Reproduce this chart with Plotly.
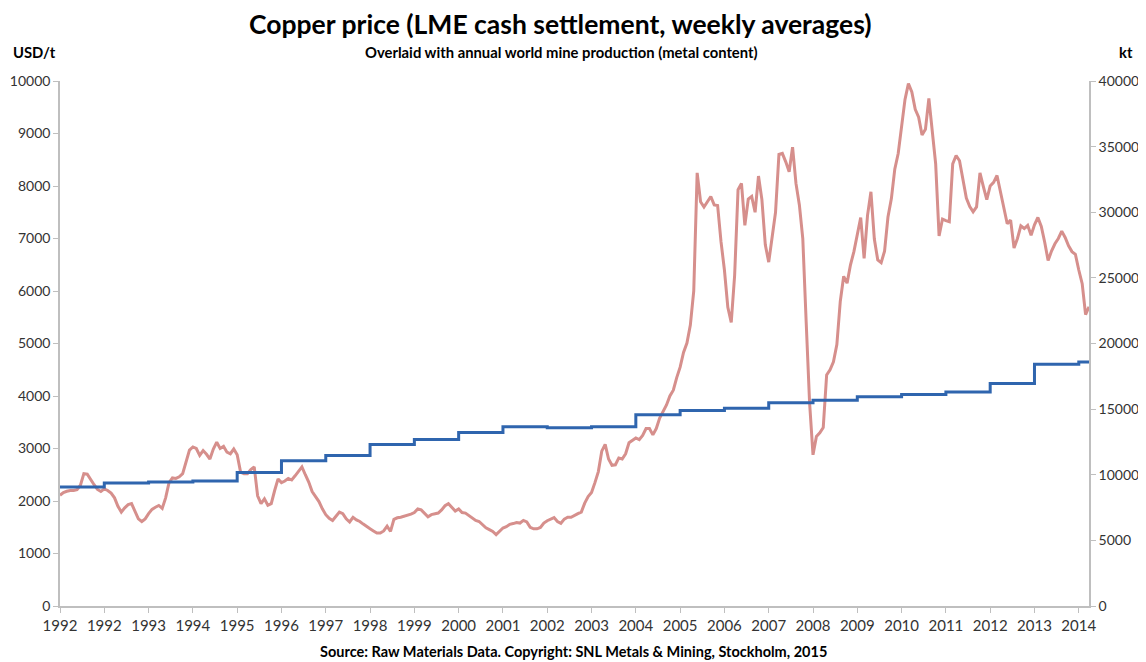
import pandas as pd
import plotly.graph_objects as go

# ---------------- data ----------------
start_date = "1992-01-02"

# LME copper cash price, USD/t, sampled every 4 weeks from start_date
price_usd_t = [
    2110, 2160, 2185, 2200, 2200, 2215, 2300, 2520, 2510, 2400,
    2310, 2220, 2180, 2230, 2200, 2150, 2060, 1900, 1790, 1870,
    1930, 1950, 1800, 1660, 1610, 1660, 1760, 1840, 1880, 1915,
    1860, 2060, 2350, 2440, 2430, 2460, 2520, 2740, 2970, 3030,
    3000, 2870, 2960, 2890, 2800, 2990, 3120, 3000, 3040, 2930,
    2900, 2990, 2880, 2550, 2520, 2520, 2600, 2650, 2100, 1950,
    2040, 1920, 1950, 2200, 2420, 2350, 2380, 2430, 2400, 2480,
    2570, 2650, 2500, 2360, 2180, 2080, 1990, 1850, 1740, 1670,
    1630, 1710, 1790, 1760, 1660, 1600, 1690, 1640, 1610, 1560,
    1510, 1470, 1430, 1390, 1390, 1430, 1520, 1420, 1650, 1680,
    1690, 1710, 1720, 1750, 1780, 1850, 1830, 1760, 1700, 1740,
    1750, 1770, 1830, 1910, 1950, 1880, 1810, 1850, 1780, 1770,
    1720, 1680, 1630, 1610, 1540, 1490, 1455, 1420, 1360, 1420,
    1485, 1510, 1555, 1570, 1590, 1580, 1630, 1600, 1500, 1470,
    1470, 1495, 1580, 1625, 1655, 1685, 1610, 1575, 1655, 1690,
    1690, 1730, 1760, 1790, 1960, 2085, 2160, 2350, 2560, 2950,
    3080, 2800, 2680, 2690, 2820, 2800, 2900, 3110, 3150, 3200,
    3170, 3250, 3380, 3380, 3260, 3380, 3580, 3700, 3830, 4000,
    4110, 4350, 4550, 4830, 5010, 5350, 6000, 8250, 7700, 7600,
    7700, 7800, 7640, 7630, 6940, 6400, 5690, 5400, 6300, 7930,
    8050, 7250, 7750, 7800, 7500, 8190, 7740, 6880, 6550, 7080,
    7500, 8600, 8620, 8460, 8270, 8740, 8050, 7640, 7000, 5400,
    3870, 2880, 3230, 3300, 3400, 4400, 4500, 4650, 4980, 5800,
    6280, 6150, 6500, 6750, 7090, 7400, 6620, 7440, 7890, 6990,
    6590, 6540, 6760, 7410, 7760, 8320, 8620, 9130, 9650, 9950,
    9790, 9460, 9310, 8970, 9080, 9670, 9020, 8420, 7050, 7370,
    7340, 7320, 8420, 8580, 8480, 8140, 7770, 7610, 7510, 7600,
    8250, 7990, 7740, 8000, 8070, 8200, 7900, 7600, 7280, 7350,
    6820, 7000, 7240, 7190, 7250, 7060, 7260, 7400, 7230, 6930,
    6580, 6760, 6900, 7000, 7140, 7020, 6860, 6750, 6700, 6400,
    6140, 5550, 5700,
]

# x-axis category labels (one every 52 weeks, as in the original)
tick_labels = ["1992", "1992", "1993", "1994", "1995", "1996", "1997", "1998",
               "1999", "2000", "2001", "2002", "2003", "2004", "2005", "2006",
               "2007", "2008", "2009", "2010", "2011", "2012", "2013", "2014"]

# annual world mine production, kt (one value per labelled interval)
production_kt = [9070, 9380, 9450, 9530, 10170, 11060, 11470, 12300, 12690,
                 13220, 13660, 13580, 13660, 14570, 14900, 15060, 15480,
                 15680, 15940, 16120, 16310, 16960, 18410, 18600]

# ---------------- build figure ----------------
price_dates = pd.date_range(start_date, periods=len(price_usd_t), freq="28D")
tick_dates = pd.date_range(start_date, periods=len(tick_labels), freq="364D")
prod_dates = list(tick_dates) + [price_dates[-1]]
prod_vals = production_kt + [production_kt[-1]]

FONT = "Lato"
AXIS_COL = "#BFBFBF"
TXT_COL = "#333333"

fig = go.Figure()
fig.add_trace(go.Scatter(
    x=price_dates, y=price_usd_t, mode="lines",
    line=dict(color="#D68F8C", width=3), yaxis="y", showlegend=False,
))
fig.add_trace(go.Scatter(
    x=prod_dates, y=prod_vals, mode="lines", line_shape="hv",
    line=dict(color="#2F65AE", width=3), yaxis="y2", showlegend=False,
))

axis_common = dict(
    showgrid=False, zeroline=False, automargin=False,
    showline=True, linecolor=AXIS_COL, linewidth=1.5,
    ticks="outside", tickcolor=AXIS_COL, ticklen=5,
)

# the page body adds an 8 px margin, so the figure is sized/margined to compensate
fig.update_layout(
    width=1138, height=654,
    margin=dict(l=52, r=57, t=73, b=56),
    paper_bgcolor="white", plot_bgcolor="white",
    font=dict(family=FONT, size=15, color=TXT_COL),
    xaxis=dict(
        type="date", range=[price_dates[0], price_dates[-1]],
        tickmode="array", tickvals=tick_dates, ticktext=tick_labels,
        tickfont=dict(family=FONT, size=15, color=TXT_COL),
        **axis_common,
    ),
    yaxis=dict(range=[0, 10000], dtick=1000, tickformat="d",
               tickfont=dict(family=FONT, size=14, color=TXT_COL),
               **axis_common),
    yaxis2=dict(overlaying="y", side="right", range=[0, 40000], dtick=5000,
                tickformat="d",
                tickfont=dict(family=FONT, size=14, color=TXT_COL),
                **axis_common),
)

annots = [
    dict(text="<b>Copper price (LME cash settlement, weekly averages)</b>",
         x=0.486, y=1.108, size=26.5),
    dict(text="<b>Overlaid with annual world mine production (metal content)</b>",
         x=0.487, y=1.055, size=14.8),
    dict(text="<b>USD/t</b>", x=-0.025, y=1.055, size=14.8),
    dict(text="<b>kt</b>", x=1.036, y=1.055, size=14.8),
    dict(text="<b>Source: Raw Materials Data. Copyright: SNL Metals &amp; Mining, Stockholm, 2015</b>",
         x=0.4995, y=-0.0876, size=14.5),
]
for a in annots:
    fig.add_annotation(text=a["text"], xref="paper", yref="paper",
                       x=a["x"], y=a["y"], xanchor="center", yanchor="middle",
                       showarrow=False,
                       font=dict(family=FONT, size=a["size"], color="black"))

fig.write_html("out.html")
